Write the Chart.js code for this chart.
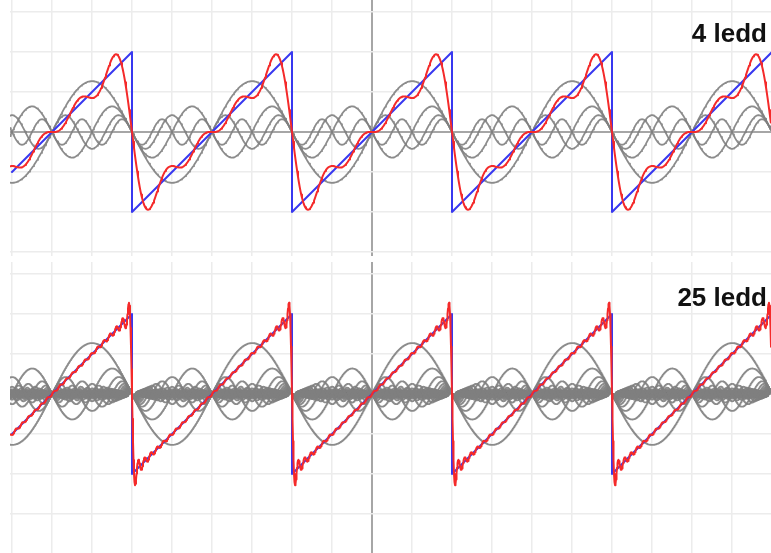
<!DOCTYPE html>
<html>
<head>
<meta charset="utf-8">
<script src="https://cdn.jsdelivr.net/npm/chart.js@4/dist/chart.umd.min.js"></script>
<style>
  html, body { margin: 0; padding: 0; background: #ffffff; }
  body { width: 771px; height: 553px; position: relative; overflow: hidden; }
  .panel { position: absolute; }
  .label { position: absolute; font-family: "Liberation Sans", Arial, sans-serif; font-weight: bold; font-size: 26px; color: #111; white-space: nowrap; line-height: 1; }
</style>
</head>
<body>
<div class="panel" id="p1" style="left:10px; top:0px; width:761px; height:256px;"><canvas id="c1"></canvas></div>
<div class="panel" id="p2" style="left:10px; top:262px; width:761px; height:291px;"><canvas id="c2"></canvas></div>
<div class="label" id="l1" style="right:4px; top:20px;"></div>
<div class="label" id="l2" style="right:4px; top:284px;"></div>
<script>
// ---- data ----
const panelLabels = ['4 ledd', '25 ledd'];
// sawtooth corner points (x in grid units, y in grid units)
const sawX = [-9, -6, -6, -2, -2, 2, 2, 6, 6, 10];
const sawY = [-1, 2, -2, 2, -2, 2, -2, 2, -2, 2];
const period = 4;
// harmonic amplitudes (sine terms)
const coefTop = [1.27, -0.64, 0.42, -0.32];
const coefBottom = [1.273, -0.637, 0.424, -0.318, 0.255, -0.212, 0.182, -0.159, 0.141, -0.127,
                    0.116, -0.106, 0.098, -0.091, 0.085, -0.080, 0.075, -0.071, 0.067, -0.064,
                    0.061, -0.058, 0.055, -0.053, 0.051];
const xMin = -9.05, xMax = 9.975;

document.getElementById('l1').textContent = panelLabels[0];
document.getElementById('l2').textContent = panelLabels[1];

function sampleXs(step) {
  const xs = [];
  for (let x = xMin; x <= xMax + 1e-9; x += step) xs.push(x);
  return xs;
}

function buildDatasets(coefs, step) {
  const xs = sampleXs(step);
  const w = 2 * Math.PI / period;
  const ds = [];
  const sum = xs.map(x => ({ x, y: coefs.reduce((s, b, i) => s + b * Math.sin((i + 1) * w * x), 0) }));
  ds.push({ data: sum, borderColor: '#f42a2a', borderWidth: 2, order: 0 });
  ds.push({ data: sawX.map((x, i) => ({ x, y: sawY[i] })), borderColor: '#3838f0', borderWidth: 2, order: 1 });
  coefs.forEach((b, i) => {
    ds.push({ data: xs.map(x => ({ x, y: b * Math.sin((i + 1) * w * x) })), borderColor: 'rgba(128,128,128,0.9)', borderWidth: 1.8, order: 2 });
  });
  return ds;
}

function makeChart(id, coefs, yMin, yMax, step) {
  return new Chart(document.getElementById(id), {
    type: 'line',
    data: { datasets: buildDatasets(coefs, step) },
    options: {
      responsive: true,
      maintainAspectRatio: false,
      animation: false,
      parsing: false,
      normalized: true,
      events: [],
      layout: { padding: 0 },
      elements: { point: { radius: 0 }, line: { tension: 0, fill: false, borderCapStyle: 'round', borderJoinStyle: 'round' } },
      plugins: { legend: { display: false }, tooltip: { enabled: false }, title: { display: false } },
      scales: {
        x: {
          type: 'linear', min: xMin, max: xMax,
          ticks: { display: false, stepSize: 1 },
          border: { display: false },
          afterBuildTicks: s => { const t = []; for (let v = Math.ceil(s.min); v <= Math.floor(s.max); v++) t.push({ value: v }); s.ticks = t; },
          grid: {
            drawTicks: false,
            color: c => (c.tick && c.tick.value === 0) ? '#a6a6a6' : '#ececec',
            lineWidth: c => (c.tick && c.tick.value === 0) ? 2 : 1.5
          }
        },
        y: {
          type: 'linear', min: yMin, max: yMax,
          ticks: { display: false, stepSize: 1 },
          border: { display: false },
          afterBuildTicks: s => { const t = []; for (let v = Math.ceil(s.min); v <= Math.floor(s.max); v++) t.push({ value: v }); s.ticks = t; },
          grid: {
            drawTicks: false,
            color: c => (c.tick && c.tick.value === 0) ? '#a6a6a6' : '#ececec',
            lineWidth: c => (c.tick && c.tick.value === 0) ? 2 : 1.5
          }
        }
      }
    }
  });
}

makeChart('c1', coefTop, -3.1, 3.3, 0.02);
makeChart('c2', coefBottom, -3.975, 3.3, 0.0125);
</script>
</body>
</html>
